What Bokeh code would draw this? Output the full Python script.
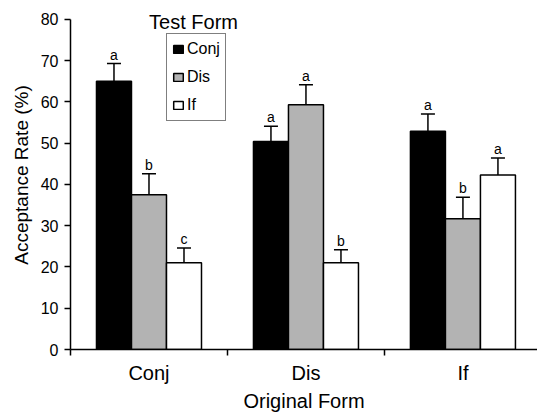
from bokeh.plotting import figure
from bokeh.models import Range1d, FixedTicker, Whisker, TeeHead, Legend, LegendItem, Label, ColumnDataSource
from bokeh.core.properties import value
from bokeh.embed import file_html
from bokeh.resources import INLINE

categories = ["Conj", "Dis", "If"]
series = ["Conj", "Dis", "If"]
conj_vals = [65.0, 50.4, 52.9]
conj_err = [4.3, 3.7, 4.2]
conj_letters = ["a", "a", "a"]
dis_vals = [37.5, 59.3, 31.7]
dis_err = [5.1, 4.9, 5.2]
dis_letters = ["b", "a", "b"]
if_vals = [21.0, 21.0, 42.3]
if_err = [3.6, 3.2, 4.1]
if_letters = ["c", "b", "a"]
y_ticks = [0, 10, 20, 30, 40, 50, 60, 70, 80]

FONT = "Liberation Sans"
bar_w = 0.223
fills = ["#000000", "#b3b3b3", "#ffffff"]

p = figure(width=537, height=415, output_backend="svg", toolbar_location=None,
           x_range=Range1d(0, 2.975), y_range=Range1d(0, 84.6),
           min_border_left=70, min_border_top=0, min_border_right=0, min_border_bottom=66)
p.outline_line_color = None
p.xgrid.visible = False
p.ygrid.visible = False
p.background_fill_color = "white"
p.border_fill_color = "white"

renderers = []
for j, (vals, errs, letters) in enumerate([(conj_vals, conj_err, conj_letters),
                                           (dis_vals, dis_err, dis_letters),
                                           (if_vals, if_err, if_letters)]):
    xs = [i + 0.5 + (j - 1) * bar_w for i in range(len(categories))]
    tops = [v + e for v, e in zip(vals, errs)]
    src = ColumnDataSource(dict(x=xs, top=vals, upper=tops, letter=letters))
    w = Whisker(base="x", lower="top", upper="upper", source=src, dimension="height",
                line_color="black", line_width=1.5,
                upper_head=TeeHead(size=14, line_color="black", line_width=1.5), lower_head=None)
    p.add_layout(w)
    r = p.vbar(x="x", top="top", bottom=0, width=bar_w, source=src,
               fill_color=fills[j], line_color="black", line_width=1.5)
    renderers.append(r)
    p.text(x="x", y="upper", text="letter", source=src, text_align="center",
           text_baseline="bottom", y_offset=-1, text_font=value(FONT),
           text_font_size="14px", text_color="black")

# y axis
ya = p.yaxis[0]
ya.bounds = (0, 80)
ya.ticker = FixedTicker(ticks=y_ticks)
ya.minor_tick_line_color = None
ya.major_tick_in = 0
ya.major_tick_out = 6
ya.major_tick_line_width = 1.5
ya.axis_line_width = 1.5
ya.major_label_text_font = FONT
ya.major_label_text_font_size = "16px"
ya.major_label_text_color = "black"
ya.major_label_standoff = 6
ya.axis_label = "Acceptance Rate (%)"
ya.axis_label_text_font = FONT
ya.axis_label_text_font_size = "19px"
ya.axis_label_text_font_style = "normal"
ya.axis_label_text_color = "black"
ya.axis_label_standoff = 6

# x axis
xa = p.xaxis[0]
xa.ticker = FixedTicker(ticks=[0.5, 1.5, 2.5], minor_ticks=[0, 1, 2, 3])
xa.major_label_overrides = {0.5: categories[0], 1.5: categories[1], 2.5: categories[2]}
xa.major_tick_in = 0
xa.major_tick_out = 0
xa.minor_tick_in = 0
xa.minor_tick_out = 6
xa.minor_tick_line_width = 1.5
xa.minor_tick_line_color = "black"
xa.axis_line_width = 1.5
xa.major_label_text_font = FONT
xa.major_label_text_font_size = "20px"
xa.major_label_text_color = "black"
xa.major_label_standoff = 6
xa.axis_label = "Original Form"
xa.axis_label_text_font = FONT
xa.axis_label_text_font_size = "20px"
xa.axis_label_text_font_style = "normal"
xa.axis_label_text_color = "black"
xa.axis_label_standoff = 3

legend = Legend(items=[LegendItem(label=s, renderers=[r]) for s, r in zip(series, renderers)],
                location=(96, 228), margin=0, padding=5, spacing=8,
                glyph_width=12, glyph_height=10, label_height=20, label_standoff=3,
                label_text_font=FONT, label_text_font_size="16px", label_text_color="black",
                border_line_color="black", border_line_width=1.5, background_fill_alpha=1.0)
p.add_layout(legend)

p.add_layout(Label(x=193 - 70, y=328, x_units="screen", y_units="screen",
                   text="Test Form", text_align="center", text_baseline="alphabetic",
                   text_font=FONT, text_font_size="20px", text_color="black"))

open("out.html", "w").write(file_html(p, INLINE))
